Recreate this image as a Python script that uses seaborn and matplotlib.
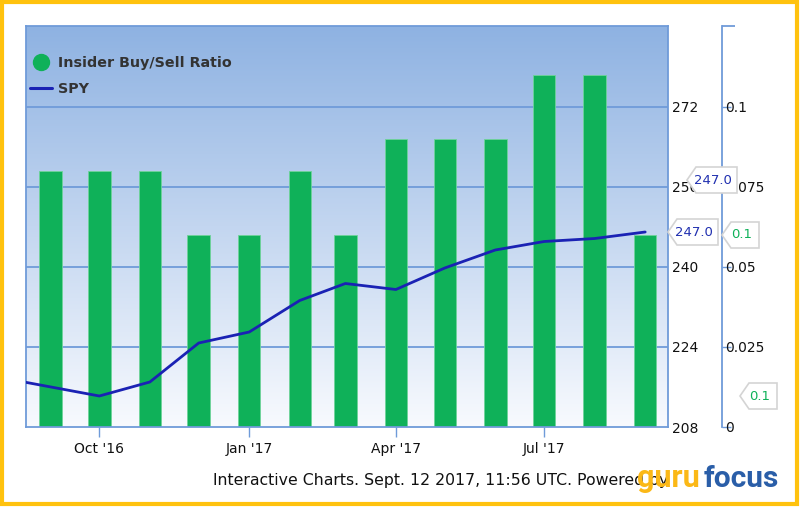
import numpy as np
import pandas as pd
import matplotlib
matplotlib.use("Agg")
import matplotlib.pyplot as plt
import matplotlib.dates as mdates
import seaborn as sns
from matplotlib.colors import LinearSegmentedColormap
from matplotlib.lines import Line2D
from matplotlib.patches import Polygon, Rectangle

# insider buy/sell ratio, monthly bars
bar_dates = pd.to_datetime([
    "2016-09-01", "2016-10-01", "2016-11-01", "2016-12-01", "2017-01-01",
    "2017-02-01", "2017-03-01", "2017-04-01", "2017-05-01", "2017-06-01",
    "2017-07-01", "2017-08-01", "2017-09-01",
])
ratio = [0.08, 0.08, 0.08, 0.06, 0.06, 0.08, 0.06, 0.09, 0.09, 0.09, 0.11, 0.11, 0.06]

# SPY price line
spy_dates = pd.to_datetime([
    "2016-08-01", "2016-10-01", "2016-11-01", "2016-12-01", "2017-01-01",
    "2017-02-01", "2017-03-01", "2017-04-01", "2017-05-01", "2017-06-01",
    "2017-07-01", "2017-08-01", "2017-09-01",
])
spy = [217.9, 214.2, 217.0, 224.8, 227.0, 233.3, 236.7, 235.5, 239.8, 243.4, 245.1, 245.7, 247.0]

spy_ticks = [208, 224, 240, 256, 272]
ratio_ticks = [0, 0.025, 0.05, 0.075, 0.1]
ratio_tick_labels = ["0", "0.025", "0.05", "0.075", "0.1"]
x_tick_dates = pd.to_datetime(["2016-10-01", "2017-01-01", "2017-04-01", "2017-07-01"])

GREEN = "#0fb159"
NAVY = "#1a22b4"
GRID = "#6f9bd9"
W, H = 800, 507
PT = 0.72  # points per pixel at dpi 100

sns.set_style("white")
plt.rcParams["font.family"] = ["DejaVu Sans"]

fig = plt.figure(figsize=(W / 100, H / 100), dpi=100)
ax = fig.add_axes([26 / W, 1 - 427 / H, (668 - 26) / W, (427 - 26) / H])

# gradient background
cmap = LinearSegmentedColormap.from_list("bg", ["#f8fafe", "#8eb2e2"])
grad = np.linspace(0, 1, 256).reshape(-1, 1)
ax.imshow(grad, extent=[0, 1, 0, 1], transform=ax.transAxes, origin="lower",
          aspect="auto", cmap=cmap, zorder=0)

df_bar = pd.DataFrame({"date": mdates.date2num(bar_dates), "ratio": ratio})
sns.barplot(data=df_bar, x="date", y="ratio", native_scale=True, width=13.8 / 28,
            color=GREEN, saturation=1, edgecolor="#6fd39a", linewidth=0.6, ax=ax, zorder=2)

ax2 = ax.twinx()
df_spy = pd.DataFrame({"date": mdates.date2num(spy_dates), "spy": spy})
sns.lineplot(data=df_spy, x="date", y="spy", color=NAVY, linewidth=2.0, ax=ax2)

xmin = mdates.date2num(pd.Timestamp("2016-08-17"))
xmax = mdates.date2num(pd.Timestamp("2017-09-15"))
ax.set_xlim(xmin, xmax)
ax.set_ylim(0, 0.1253)
ax2.set_ylim(208, 288.2)

# grid
for v in ratio_ticks[1:]:
    ax.axhline(v, color=GRID, lw=1.3, zorder=1)

# x axis
ax.set_xticks(mdates.date2num(x_tick_dates))
ax.set_xticklabels([d.strftime("%b '%y") for d in x_tick_dates])
ax.tick_params(axis="x", bottom=True, direction="out", length=7.5, width=1,
               color=GRID, labelsize=10, labelcolor="#111111", pad=3)
ax.set_xlabel("")

# ratio axis (outer right)
ax.yaxis.tick_right()
ax.yaxis.set_label_position("right")
ax.spines["right"].set_position(("outward", 54 * PT))
ax.set_yticks(ratio_ticks)
ax.set_yticklabels(ratio_tick_labels)
ax.set_yticks([0.1253], minor=True)
ax.tick_params(axis="y", which="major", right=True, left=False, direction="out",
               length=6.5, width=1, color=GRID, labelsize=10, labelcolor="#111111", pad=-4.3)
ax.tick_params(axis="y", which="minor", right=True, left=False, direction="out",
               length=9, width=1.3, color=GRID)
ax.set_ylabel("")
for s in ["left", "top", "bottom", "right"]:
    ax.spines[s].set_visible(True)
    ax.spines[s].set_color(GRID)
    ax.spines[s].set_linewidth(1.3)

# spy axis (inner right)
ax2.set_yticks(spy_ticks)
ax2.tick_params(axis="y", right=True, length=0, labelsize=10, labelcolor="#111111", pad=3)
ax2.set_ylabel("")
for s in ["left", "top", "bottom"]:
    ax2.spines[s].set_visible(False)
ax2.spines["right"].set_color(GRID)
ax2.spines["right"].set_linewidth(1.3)

# legend
handles = [
    Line2D([], [], marker="o", linestyle="none", markersize=11.5, color=GREEN),
    Line2D([], [], color=NAVY, linewidth=2.2),
]
leg = ax2.legend(handles, ["Insider Buy/Sell Ratio", "SPY"], loc="upper left",
                 bbox_to_anchor=(-0.002, 0.94), frameon=False, handlelength=1.5,
                 handletextpad=0.42, labelspacing=0.85, borderaxespad=0,
                 prop={"size": 10.3, "weight": "bold"})
for t in leg.get_texts():
    t.set_color("#333333")


def tag(x0, y0, w, h, text, color):
    # value flag pointing left, in pixel coordinates
    pts = [(x0, y0), (x0 + 9, y0 - h / 2), (x0 + w, y0 - h / 2),
           (x0 + w, y0 + h / 2), (x0 + 9, y0 + h / 2)]
    pts = [(px / W, 1 - py / H) for px, py in pts]
    fig.patches.append(Polygon(pts, closed=True, transform=fig.transFigure,
                               facecolor="white", edgecolor="#d4d4d4", lw=1.2, zorder=5))
    fig.text((x0 + 1 + w / 2) / W, 1 - y0 / H, text, color=color, fontsize=9.5,
             ha="center", va="center", zorder=6)


tag(687, 180, 50, 26, "247.0", "#2130b0")
tag(668, 232, 50, 26, "247.0", "#2130b0")
tag(722, 235, 37, 26, "0.1", GREEN)
tag(740, 396, 37, 26, "0.1", GREEN)

# footer
fig.text(213 / W, 1 - 481 / H, "Interactive Charts. Sept. 12 2017, 11:56 UTC. Powered by",
         fontsize=11.3, color="#111111", ha="left", va="center")
logo_font = ["Roboto", "DejaVu Sans"]
fig.text(637 / W, 1 - 487 / H, "guru", family=logo_font, fontsize=22, fontweight="bold",
         color="#fbb817", ha="left", va="baseline")
fig.text(704 / W, 1 - 487 / H, "focus", family=logo_font, fontsize=21.5, fontweight="bold",
         color="#2a5ea8", ha="left", va="baseline")

# outer gold frame
fig.patches.append(Rectangle((1.5 / W, 3 / H), (W - 5) / W, (H - 4.5) / H,
                             transform=fig.transFigure, fill=False,
                             edgecolor="#ffc20e", lw=3, zorder=10))

fig.savefig("out.png", dpi=100)
